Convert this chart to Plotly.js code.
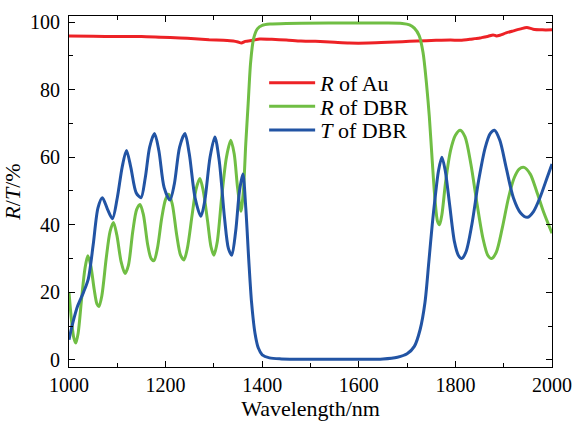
<!DOCTYPE html>
<html>
<head>
<meta charset="utf-8">
<script src="https://cdn.plot.ly/plotly-3.0.1.min.js"></script>
<style>html,body{margin:0;padding:0;background:#fff;}#chart{width:577px;height:421px;}</style>
</head>
<body>
<div id="chart"></div>
<script>
// Wavelength (nm) and values (%)
var auWavelength = [1000,1050,1100,1150,1190,1230,1260,1290,1320,1340,1350,1357,1365,1380,1395,1420,1450,1480,1510,1550,1580,1620,1660,1690,1720,1760,1790,1810,1830,1840,1851,1860,1868,1878,1885,1892,1905,1920,1935,1948,1961,1980,2000];
var auReflect = [95.9,95.8,95.7,95.7,95.5,95.3,95.1,94.8,94.6,94.4,94.1,93.8,94.3,94.6,95.0,94.9,94.7,94.4,94.3,94.0,93.8,93.8,94.0,94.2,94.4,94.6,94.7,94.6,94.9,95.1,95.3,95.6,95.8,96.2,95.9,96.1,96.8,97.4,98.0,98.4,97.9,97.7,97.7];

var dbrRWavelength = [1000,1005,1010,1014,1019,1026,1033,1039,1045,1052,1058,1062,1068,1077,1085,1092,1099,1108,1116,1123,1132,1140,1147,1154,1163,1170,1176,1183,1192,1200,1207,1214,1223,1231,1238,1245,1255,1263,1271,1278,1287,1294,1300,1307,1316,1326,1335,1342,1349,1356,1361,1366,1371,1376,1382,1390,1400,1416,1450,1550,1650,1690,1705,1715,1725,1733,1740,1746,1752,1758,1763,1767,1772,1780,1790,1800,1810,1820,1832,1845,1857,1867,1875,1885,1897,1910,1922,1932,1942,1955,1968,1982,2000];
var dbrReflect = [20,12,6.5,5,8,18,27,30.8,28,21,16.5,15.8,19,30,38,40.7,37,29,25.6,28,38,44.5,46,43,34,30,29.4,33,42,47.5,49,46,37,31,29.6,33,43,50.5,53.7,50,41,33.5,31,35,48,60,65,61,51,44,50,64,76,88,95,98,99,99.4,99.6,99.7,99.7,99.6,99.2,98.2,96,91,82,72,59,47,41,40,43,53,62,66.5,68,66,58,46,36,31,30,32,39,48,54,56.5,57,55,50,44,37.5];

var dbrTWavelength = [1000,1008,1018,1030,1040,1050,1060,1069,1080,1090,1100,1110,1119,1128,1139,1149,1158,1167,1177,1186,1197,1209,1218,1229,1240,1249,1261,1273,1281,1292,1302,1311,1322,1330,1337,1345,1353,1360,1366,1372,1378,1385,1392,1400,1415,1440,1500,1600,1650,1680,1700,1715,1727,1737,1745,1752,1758,1765,1772,1779,1788,1798,1806,1813,1822,1834,1848,1862,1872,1881,1892,1905,1920,1935,1949,1962,1975,1990,2000];
var dbrTrans = [6,11,16,20,24,34,45,48,44.5,41.8,48,57,62,57,49.5,48,54,63,67,62,51,47.3,52,63,67,61,48,42.5,47,60,66,59,42,33,31,38,50,55,45,30,17,8,3.5,1.5,0.6,0.3,0.2,0.2,0.3,0.8,1.8,4,9,17,29,40,48,56,60,56,46,35,31,30,32,40,53,63,67,68,65,57,48,43.5,42.2,44,48,54,58];

var seriesNames = ['<i>R</i> of Au', '<i>R</i> of DBR', '<i>T</i> of DBR'];
var seriesColors = ['rgb(237,34,38)', 'rgb(112,190,68)', 'rgb(34,84,164)'];
var xTickVals = [1000,1200,1400,1600,1800,2000];
var yTickVals = [0,20,40,60,80,100];

var FONT = 'Liberation Serif';

var traces = [
  {x: auWavelength, y: auReflect, name: seriesNames[0], type: 'scatter', mode: 'lines', legend: 'legend', showlegend: true,
   line: {color: seriesColors[0], width: 3, shape: 'spline', smoothing: 0.6}},
  {x: dbrRWavelength, y: dbrReflect, name: seriesNames[1], type: 'scatter', mode: 'lines', legend: 'legend2', showlegend: true,
   line: {color: seriesColors[1], width: 3, shape: 'spline', smoothing: 0.8}},
  {x: dbrTWavelength, y: dbrTrans, name: seriesNames[2], type: 'scatter', mode: 'lines', legend: 'legend3', showlegend: true,
   line: {color: seriesColors[2], width: 3, shape: 'spline', smoothing: 0.8}}
];

function legendAt(yPaper) {
  return {x: 0.404, y: yPaper, xanchor: 'left', yanchor: 'middle', bgcolor: 'rgba(0,0,0,0)',
          font: {family: FONT, size: 22, color: '#000'}, itemwidth: 46, borderwidth: 0};
}

var layout = {
  width: 577, height: 421,
  margin: {l: 69, r: 25, t: 16, b: 54},
  paper_bgcolor: '#fff', plot_bgcolor: '#fff',
  font: {family: FONT, size: 20, color: '#000'},
  showlegend: true,
  legend: legendAt(0.809),
  legend2: legendAt(0.742),
  legend3: legendAt(0.675),
  xaxis: {
    range: [1000, 2000], tickvals: xTickVals, ticktext: xTickVals.map(String),
    ticks: 'inside', ticklen: 6, tickwidth: 1, tickcolor: '#000',
    showline: true, linecolor: '#000', linewidth: 1, mirror: 'allticks',
    showgrid: false, zeroline: false,
    minor: {dtick: 100, tick0: 1000, ticks: 'inside', ticklen: 4, tickcolor: '#000', showgrid: false},
    tickfont: {family: FONT, size: 20, color: '#000'}, ticklabelstandoff: 0,
    title: {text: 'Wavelength/nm', font: {family: FONT, size: 22, color: '#000'}, standoff: 16}
  },
  yaxis: {
    range: [-2.1, 101.8], tickvals: yTickVals, ticktext: yTickVals.map(String),
    ticks: 'inside', ticklen: 6, tickwidth: 1, tickcolor: '#000',
    showline: true, linecolor: '#000', linewidth: 1, mirror: 'allticks',
    showgrid: false, zeroline: false,
    minor: {dtick: 10, tick0: 0, ticks: 'inside', ticklen: 4, tickcolor: '#000', showgrid: false},
    tickfont: {family: FONT, size: 20, color: '#000'}, ticklabelstandoff: 4,
    title: {text: '<i>R</i>/<i>T</i>/%', font: {family: FONT, size: 22, color: '#000'}, standoff: 3}
  }
};

Plotly.newPlot('chart', traces, layout, {displayModeBar: false, staticPlot: true});
</script>
</body>
</html>
